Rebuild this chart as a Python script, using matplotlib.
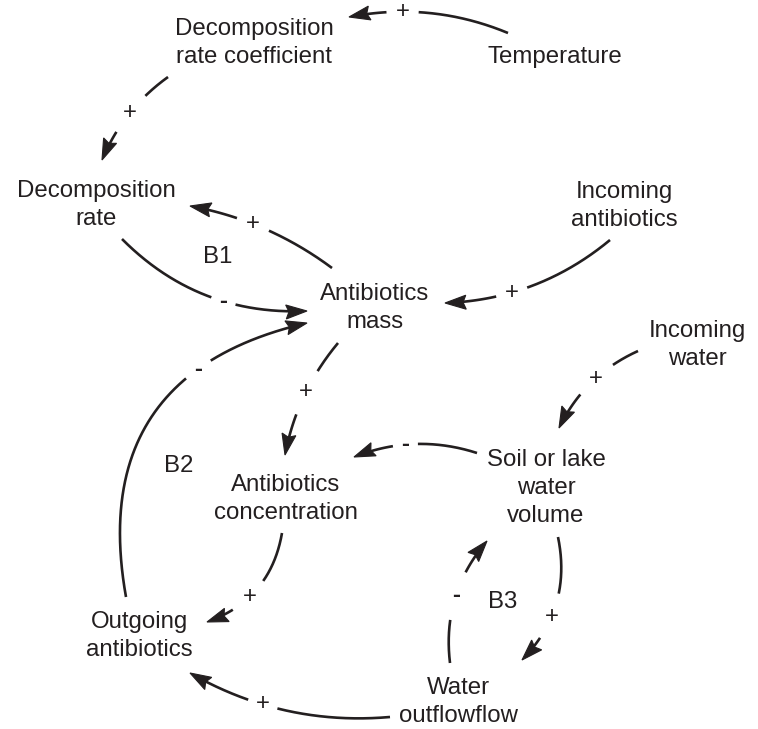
import numpy as np
import matplotlib.pyplot as plt
from matplotlib.patches import Polygon

# variables of the causal loop diagram
node_keys = ["coef", "temp", "decomp", "inc_ab", "mass", "inc_w",
             "conc", "volume", "out_ab", "outflow"]
node_labels = ["Decomposition\nrate coefficient", "Temperature", "Decomposition\nrate",
               "Incoming\nantibiotics", "Antibiotics\nmass", "Incoming\nwater",
               "Antibiotics\nconcentration", "Soil or lake\nwater\nvolume",
               "Outgoing\nantibiotics", "Water\noutflowflow"]

# causal links (cause -> effect) and their polarity
link_from = ["temp", "coef", "mass", "decomp", "inc_ab", "out_ab", "mass",
             "volume", "conc", "inc_w", "volume", "outflow", "outflow"]
link_to = ["coef", "decomp", "decomp", "mass", "mass", "mass", "conc",
           "conc", "out_ab", "volume", "outflow", "volume", "out_ab"]
link_sign = ["+", "+", "+", "-", "+", "-", "+", "-", "+", "+", "+", "-", "+"]

# balancing loops
loop_labels = ["B1", "B2", "B3"]

# ---- layout (pixel space, y down) ----
node_pos = {"coef": (254, 43), "temp": (555, 57), "decomp": (96, 205),
            "inc_ab": (624, 206), "mass": (375, 308), "inc_w": (697, 345),
            "conc": (286, 499), "volume": (546, 488), "out_ab": (139, 636),
            "outflow": (458, 702)}
loop_pos = [(218, 257), (179, 466), (503, 602)]

# arrow anchors as offsets from the node centres, bend = sideways bulge
start_off = [(-47, -24), (-86, 34), (-43, -40), (26, 34), (-14, 34), (-13, -39), (-37, 35),
             (-69, -35), (-4, 34), (-59, 6), (12, 49), (-8, -39), (-68, 15)]
end_off = [(95, -26), (6, -45), (94, 1), (-68, 3), (70, -5), (-68, 15), (-1, -44),
           (68, -42), (68, -14), (13, -60), (64, -42), (-59, 53), (51, 37)]
bend = [12, 7.5, 9, 22, -15, -78, 8, 11, -17, 10, -17, -14, -16]
sign_t = [0.67, 0.49, 0.58, 0.59, 0.625, 0.70, 0.47, 0.58, 0.6, 0.45, 0.61, 0.52, 0.62]
gap = [16, 23, 17, 12.5, 16, 15, 24, 12.5, 21, 22, 24, 25, 15]

ink = "#231f20"
font = dict(family="Liberation Sans", fontsize=17.3, color=ink)

fig = plt.figure(figsize=(7.58, 7.29), dpi=100)
ax = fig.add_axes([0, 0, 1, 1])
ax.set_xlim(0, 758)
ax.set_ylim(729, 0)
ax.axis("off")

for k, lab in zip(node_keys, node_labels):
    x, y = node_pos[k]
    ax.text(x, y, lab, ha="center", va="center", multialignment="center",
            linespacing=1.37, **font)

for lab, (x, y) in zip(loop_labels, loop_pos):
    ax.text(x, y, lab, ha="center", va="center", **font)


def bezier(p0, c, p1, t):
    t = t[:, None]
    return (1 - t) ** 2 * p0 + 2 * t * (1 - t) * c + t ** 2 * p1


head_len, head_w = 21, 7
for i in range(len(link_from)):
    p0 = np.array(node_pos[link_from[i]], float) + start_off[i]
    p1 = np.array(node_pos[link_to[i]], float) + end_off[i]
    d = p1 - p0
    perp = np.array([-d[1], d[0]]) / np.hypot(*d)
    mid = (p0 + p1) / 2 + bend[i] * perp
    c = 2 * mid - (p0 + p1) / 2

    t = np.linspace(0, 1, 600)
    pts = bezier(p0, c, p1, t)
    s = bezier(p0, c, p1, np.array([sign_t[i]]))[0]
    dist_s = np.hypot(*(pts - s).T)
    dist_tip = np.hypot(*(pts - p1).T)
    before = (t < sign_t[i]) & (dist_s > gap[i])
    after = (t > sign_t[i]) & (dist_s > gap[i]) & (dist_tip > head_len * 0.8)
    ax.plot(pts[before, 0], pts[before, 1], color=ink, lw=1.9, solid_capstyle="butt")
    ax.plot(pts[after, 0], pts[after, 1], color=ink, lw=1.9, solid_capstyle="butt")

    u = (p1 - c) / np.hypot(*(p1 - c))
    n = np.array([-u[1], u[0]])
    back = p1 - u * head_len
    head = [p1, back + n * head_w, p1 - u * head_len * 0.86, back - n * head_w]
    ax.add_patch(Polygon(head, closed=True, fc=ink, ec=ink, lw=0.8))

    weight = "bold" if link_sign[i] == "-" else "normal"
    ax.text(s[0], s[1], link_sign[i], ha="center", va="center", fontweight=weight, **font)

fig.savefig("out.png", dpi=100)
